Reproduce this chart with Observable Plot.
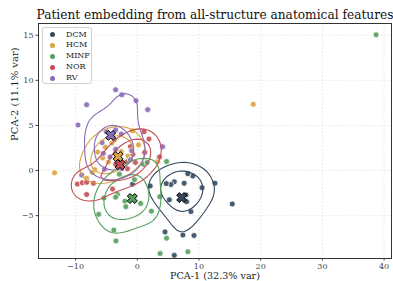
<!DOCTYPE html>
<html><head><meta charset="utf-8">
<script src="https://cdn.jsdelivr.net/npm/d3@7"></script>
<script src="https://cdn.jsdelivr.net/npm/@observablehq/plot@0.6"></script>
<style>
body{margin:0;background:#fff;}
#wrap{position:relative;width:393px;height:281px;overflow:hidden;font-family:"DejaVu Serif",serif;}
#legend{position:absolute;left:42px;top:27px;width:50px;height:57px;border:1px solid #d0d0d0;border-radius:3px;background:rgba(255,255,255,0.9);box-sizing:border-box;font-size:8px;color:#222;}
#legend .it{position:absolute;left:0;height:10px;line-height:10px;white-space:nowrap;}
#legend .sw{position:absolute;left:7px;top:2.5px;width:5px;height:5px;border-radius:50%;}
#legend .lb{position:absolute;left:23px;top:0;}
</style></head><body><div id="wrap"></div>
<script>
const categories = ["DCM", "HCM", "MINF", "NOR", "RV"];
const colors = ["#34495e", "#d9a441", "#55a05c", "#c44e55", "#8a6bb8"];
const xTicks = [-10, 0, 10, 20, 30, 40];
const yTicks = [-5, 0, 5, 10, 15];

const dcmPC1 = [12.6, 15.4, 10.5, 9.0, 8.2, 8.7, 8.0, 7.9, 7.6, 6.0, 5.45, 4.7, 5.2, 2.1, -0.75, 4.5, 7.4, 9.2, 6.0, 7.2];
const dcmPC2 = [-1.4, -3.7, -1.9, -0.6, -0.35, -4.55, -3.45, -2.7, -1.4, -1.25, -1.55, -1.45, -3.25, -1.7, -1.5, -6.8, -7.15, -7.2, -9.4, -3.0];
const hcmPC1 = [-13.4, 18.8, -0.75, 0.2, 3.3, -6.4, -6.9, -4.65, -4.1, -8.2, -2.5, -5.6, -3.5, -2.6, -1.5, -7.3, -3.7, -5.2];
const hcmPC2 = [-0.25, 7.35, 4.4, 2.85, 1.0, 2.05, 0.1, 0.95, 3.05, -0.85, 0.6, 1.4, 1.35, 2.1, 1.6, -0.2, 3.4, 2.6];
const minfPC1 = [38.7, 4.75, 1.0, 1.6, -0.45, -2.9, 3.65, 0.55, 2.3, -3.2, -3.5, -2.0, -1.85, -5.4, -6.25, -3.8, -3.45, 4.75, 3.7, 8.2, -0.9];
const minfPC2 = [15.05, 1.0, 0.7, 0.9, -1.0, -0.4, -2.9, -3.65, -4.5, -2.65, -2.95, -3.4, -4.0, -3.05, -4.85, -6.6, -7.8, -7.5, -9.2, -9.0, -3.1];
const norPC1 = [1.1, 1.9, -1.1, 1.2, 3.6, -0.7, -1.7, -1.6, -9.7, -8.9, -8.2, -7.1, -8.2, -4.0, -3.5, -2.5, -0.3, -2.9];
const norPC2 = [4.3, 3.5, 2.65, 2.0, 1.5, 1.8, 0.95, 0.2, -1.5, -1.35, -1.3, -1.4, -2.65, -2.05, 0.7, 0.3, 0.9, 0.9];
const rvPC1 = [-3.5, -2.5, -0.2, 1.7, -8.2, -9.6, -3.5, -5.0, -2.6, -5.7, -3.5, -5.5, 4.1, -1.1, -9.0, -5.3, -2.5, -0.9, -4.4];
const rvPC2 = [8.95, 8.4, 7.75, 6.75, 7.3, 5.05, 4.5, 4.3, 4.05, 3.1, 2.35, 1.9, 2.65, 1.2, -0.5, 0.15, 0.2, 2.2, 1.5];
const centroidPC1 = [7.2, -3.1, -0.8, -2.8, -4.3];
const centroidPC2 = [-3.0, 1.55, -3.1, 0.65, 3.9];

const titleText = "Patient embedding from all-structure anatomical features";
const xLabel = "PCA-1 (32.3% var)";
const yLabel = "PCA-2 (11.1% var)";

const W = 393, H = 281, mT = 23, mB = 23, mL = 38, mR = 2;
const xDomain = [-16, 41.2], yDomain = [-9.75, 16.3];
const bw = 14.5, levels = [0.42, 0.68];

const series = {DCM: [dcmPC1, dcmPC2], HCM: [hcmPC1, hcmPC2], MINF: [minfPC1, minfPC2], NOR: [norPC1, norPC2], RV: [rvPC1, rvPC2]};
const points = [];
for (const c of categories) {
  const [xs, ys] = series[c];
  xs.forEach((x, i) => points.push({cls: c, x, y: ys[i]}));
}
const centroids = categories.map((c, i) => ({cls: c, x: centroidPC1[i], y: centroidPC2[i]}));
const colorOf = c => colors[categories.indexOf(c)];

// per-class contour levels as fractions of each class's peak density (Plot scales density by 100)
const sx = d3.scaleLinear(xDomain, [mL, W - mR]);
const sy = d3.scaleLinear(yDomain, [H - mB, mT]);
function classThresholds(rows) {
  const m = d3.contourDensity().x(d => sx(d.x)).y(d => sy(d.y)).size([W, H]).bandwidth(bw).contours(rows).max;
  return levels.map(l => l * m * 100);
}

const xSymbol = {
  draw(ctx, size) {
    const r = Math.sqrt(size / Math.PI), w = r * 0.36;
    const pts = [[w, r], [w, w], [r, w], [r, -w], [w, -w], [w, -r], [-w, -r], [-w, -w], [-r, -w], [-r, w], [-w, w], [-w, r]];
    const a = Math.PI / 4, ca = Math.cos(a), sa = Math.sin(a);
    pts.forEach(([px, py], i) => {
      const qx = px * ca - py * sa, qy = px * sa + py * ca;
      if (i === 0) ctx.moveTo(qx, qy); else ctx.lineTo(qx, qy);
    });
    ctx.closePath();
  }
};

const chart = Plot.plot({
  width: W, height: H,
  marginTop: mT, marginBottom: mB, marginLeft: mL, marginRight: mR,
  x: {domain: xDomain, label: null},
  y: {domain: yDomain, label: null},
  color: {domain: categories, range: colors},
  style: {fontFamily: "'DejaVu Serif', serif", fontSize: "8px", color: "#444", background: "white"},
  marks: [
    Plot.gridX(xTicks, {stroke: "#bbb", strokeOpacity: 0.35, strokeDasharray: "1.5,2"}),
    Plot.gridY(yTicks, {stroke: "#bbb", strokeOpacity: 0.35, strokeDasharray: "1.5,2"}),
    Plot.axisX(xTicks, {tickSize: 2.5, tickPadding: 2.5, label: null}),
    Plot.axisY(yTicks, {tickSize: 2.5, tickPadding: 2.5, label: null}),
    Plot.dot(points, {x: "x", y: "y", fill: "cls", r: 3, stroke: "white", strokeWidth: 0.8, fillOpacity: 0.9}),
    ...categories.map(c => {
      const rows = points.filter(d => d.cls === c);
      return Plot.density(rows, {x: "x", y: "y", stroke: colorOf(c), strokeWidth: 1.1, bandwidth: bw, thresholds: classThresholds(rows)});
    }),
    Plot.dot(centroids, {x: "x", y: "y", fill: "cls", stroke: "black", strokeWidth: 1, symbol: xSymbol, r: 5.2}),
    Plot.frame({stroke: "#333"}),
    Plot.text([titleText], {text: d => d, frameAnchor: "top", dy: -5, lineAnchor: "bottom", fontSize: 12.2, fill: "#111"}),
    Plot.text([xLabel], {text: d => d, frameAnchor: "bottom", dy: 14, lineAnchor: "top", fontSize: 9.6, fill: "#222"}),
    Plot.text([yLabel], {text: d => d, frameAnchor: "left", dx: -24, rotate: -90, lineAnchor: "middle", fontSize: 10, fill: "#222"})
  ]
});
const wrap = document.getElementById("wrap");
wrap.appendChild(chart);

const legend = document.createElement("div");
legend.id = "legend";
categories.forEach((c, i) => {
  const it = document.createElement("div");
  it.className = "it";
  it.style.top = (1.5 + i * 10.9) + "px";
  it.innerHTML = `<span class="sw" style="background:${colors[i]}"></span><span class="lb">${c}</span>`;
  legend.appendChild(it);
});
wrap.appendChild(legend);
</script>
</body></html>
